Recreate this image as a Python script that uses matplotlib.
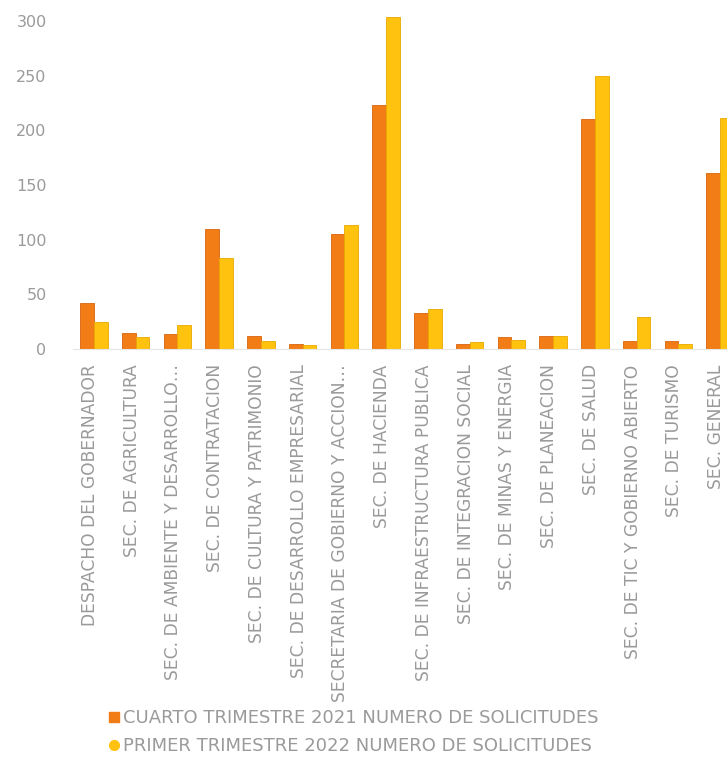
import matplotlib.pyplot as plt
from matplotlib.lines import Line2D
from matplotlib.transforms import ScaledTranslation
import numpy as np

categorias = [
    "DESPACHO DEL GOBERNADOR",
    "SEC. DE AGRICULTURA",
    "SEC. DE AMBIENTE Y DESARROLLO…",
    "SEC. DE CONTRATACION",
    "SEC. DE CULTURA Y PATRIMONIO",
    "SEC. DE DESARROLLO EMPRESARIAL",
    "SECRETARIA DE GOBIERNO Y ACCION…",
    "SEC. DE HACIENDA",
    "SEC. DE INFRAESTRUCTURA PUBLICA",
    "SEC. DE INTEGRACION SOCIAL",
    "SEC. DE MINAS Y ENERGIA",
    "SEC. DE PLANEACION",
    "SEC. DE SALUD",
    "SEC. DE TIC Y GOBIERNO ABIERTO",
    "SEC. DE TURISMO",
    "SEC. GENERAL",
]
cuarto_2021 = [42, 15, 14, 110, 12, 5, 105, 223, 33, 5, 11, 12, 210, 7, 7, 161]
primer_2022 = [25, 11, 22, 83, 7, 4, 113, 304, 37, 6, 8, 12, 250, 29, 5, 211]
serie_nombres = ["CUARTO TRIMESTRE 2021 NUMERO DE SOLICITUDES",
                 "PRIMER TRIMESTRE 2022 NUMERO DE SOLICITUDES"]

naranja = "#F27C16"
amarillo = "#FFC20E"
gris = "#9a9a9a"

fig = plt.figure(figsize=(7.27, 7.59), dpi=100)
# the last category runs past the right edge of the figure
ax = fig.add_axes([73 / 727, 1 - 349 / 759, 668 / 727, 339 / 759])

x = np.arange(len(categorias))
w = 0.33
ax.bar(x - w / 2, cuarto_2021, w, color=naranja, edgecolor="#d8640c", linewidth=0.6)
ax.bar(x + w / 2, primer_2022, w, color=amarillo, edgecolor="#e8a800", linewidth=0.6)

ax.set_xlim(-0.5, len(categorias) - 0.5)
ax.set_ylim(0, 310)
ax.set_yticks(range(0, 301, 50))
ax.tick_params(axis="y", length=0, pad=19, labelsize=11.5, labelcolor=gris)
ax.set_xticks(x)
ax.set_xticklabels(categorias, rotation=90, fontsize=12.3, color=gris)
ax.tick_params(axis="x", length=0, pad=11)
shift = ScaledTranslation(-4 / 100, 0, fig.dpi_scale_trans)
for lbl in ax.get_xticklabels():
    lbl.set_ha("center")
    lbl.set_transform(lbl.get_transform() + shift)

for s in ["top", "right", "left"]:
    ax.spines[s].set_visible(False)
ax.spines["bottom"].set_color("#e6e6e6")

handles = [
    Line2D([], [], marker="s", linestyle="none", color=naranja, markersize=7),
    Line2D([], [], marker="o", linestyle="none", color=amarillo, markersize=7),
]
leg = fig.legend(handles, serie_nombres, loc="upper left",
                 bbox_to_anchor=(91 / 727, 1 - 693 / 759), frameon=False,
                 fontsize=13, labelcolor=gris, handletextpad=0.05,
                 handlelength=0.8, labelspacing=0.55)

fig.savefig("out.png", dpi=100)
